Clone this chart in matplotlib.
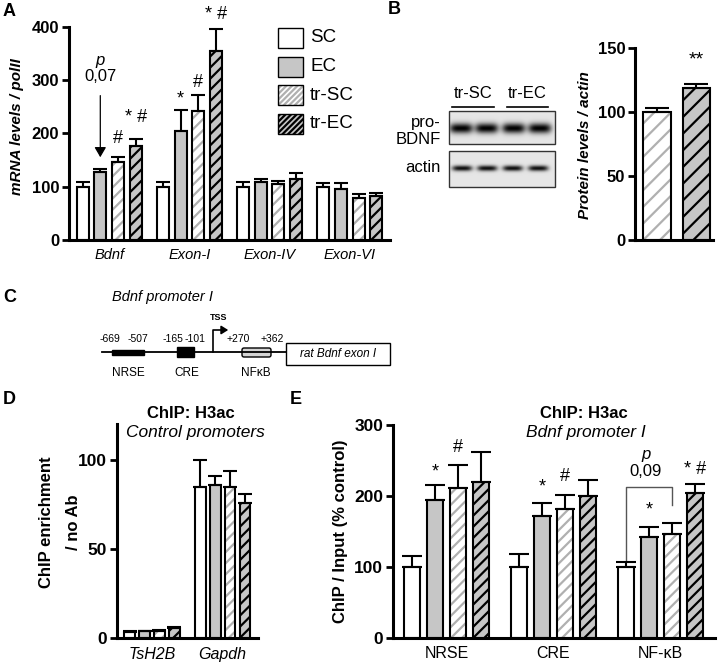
import numpy as np
import matplotlib
matplotlib.use("Agg")
import matplotlib.pyplot as plt
from matplotlib.patches import Rectangle, FancyBboxPatch

plt.rcParams['font.family'] = ['Liberation Sans', 'DejaVu Sans']
plt.rcParams['hatch.linewidth'] = 1.6

conditions = ['SC', 'EC', 'tr-SC', 'tr-EC']

# A: mRNA levels / polII
a_genes = ['Bdnf', 'Exon-I', 'Exon-IV', 'Exon-VI']
a_means = [[100, 100, 100, 100],
           [127, 205, 109, 96],
           [146, 242, 105, 79],
           [176, 355, 115, 83]]
a_errs = [[8, 8, 9, 6],
          [7, 39, 5, 10],
          [10, 29, 6, 7],
          [13, 40, 10, 5]]
a_yticks = [0, 100, 200, 300, 400]
# (gene, condition, text, y)
a_marks = [(0, 2, '#', 191), (0, 3, '* #', 229),
           (1, 1, '*', 265), (1, 2, '#', 295), (1, 3, '* #', 422)]

# B: protein levels / actin
b_groups = ['tr-SC', 'tr-EC']
b_means = [100, 119]
b_errs = [3.5, 3]
b_yticks = [0, 50, 100, 150]

# D: ChIP H3ac control promoters
d_genes = ['TsH2B', 'Gapdh']
d_means = [[3.8, 85], [3.9, 86], [4.3, 85], [5.8, 76]]
d_errs = [[0.3, 15], [0.3, 5], [0.4, 9], [0.6, 5]]
d_yticks = [0, 50, 100]

# E: ChIP H3ac Bdnf promoter I
e_sites = ['NRSE', 'CRE', 'NF-κB']
e_means = [[100, 100, 100], [194, 172, 142], [211, 181, 146], [220, 200, 204]]
e_errs = [[16, 19, 7], [22, 18, 15], [32, 20, 16], [42, 22, 13]]
e_yticks = [0, 100, 200, 300]
e_marks = [(0, 1, '*', 234), (0, 2, '#', 269), (1, 1, '*', 213), (1, 2, '#', 227),
           (2, 1, '*', 180), (2, 3, '* #', 237)]

GREY = '#c6c6c6'
HGREY = '#b0b0b0'


def bars(ax, x, h, err, cond, width, capsize, hatch='///'):
    if cond == 'SC':
        ax.bar(x, h, width, color='white', edgecolor='k', lw=1.5, zorder=2)
    elif cond == 'EC':
        ax.bar(x, h, width, color=GREY, edgecolor='k', lw=1.5, zorder=2)
    elif cond == 'tr-SC':
        ax.bar(x, h, width, color='white', edgecolor=HGREY, hatch=hatch, lw=0, zorder=2)
        ax.bar(x, h, width, color='none', edgecolor='k', lw=1.5, zorder=2)
    else:
        ax.bar(x, h, width, color=GREY, edgecolor='k', hatch=hatch, lw=1.5, zorder=2)
    err = np.atleast_1d(err)
    ax.errorbar(x, h, yerr=[np.zeros_like(err), err], fmt='none', ecolor='k',
                elinewidth=1.5, capsize=capsize, capthick=1.5, zorder=3)


def style(ax, yticks, ylim, xlim, labels, xstyle, xsize, ysize=12):
    ax.set_ylim(*ylim)
    ax.set_xlim(*xlim)
    ax.set_yticks(yticks)
    ax.spines[['top', 'right']].set_visible(False)
    ax.spines[['left', 'bottom']].set_linewidth(2.2)
    ax.tick_params(axis='y', length=5, width=2, labelsize=ysize, pad=2)
    ax.tick_params(axis='x', length=0, pad=6)
    ax.set_xticks(np.arange(len(labels)))
    ax.set_xticklabels(labels, fontstyle=xstyle, fontsize=xsize)
    plt.setp(ax.get_yticklabels(), fontweight='bold')
    ax.patch.set_alpha(0)


def px(l, t, r, b):
    return [l / 720, 1 - b / 666, (r - l) / 720, (b - t) / 666]


fig = plt.figure(figsize=(7.2, 6.66), dpi=100)
ov = fig.add_axes([0, 0, 1, 1])

# ---- A
axA = fig.add_axes(px(69, 26.7, 390, 240))
step, w = 0.22, 0.15
xa = np.arange(len(a_genes))
for k, c in enumerate(conditions):
    bars(axA, xa + (k - 1.5) * step, a_means[k], a_errs[k], c, w, 5)
style(axA, a_yticks, (0, 400), (-0.5, 3.5), a_genes, 'italic', 10.5)
for g, k, t, y in a_marks:
    axA.text(g + (k - 1.5) * step, y, t, ha='center', va='center', fontsize=13, clip_on=False)
xec = (1 - 1.5) * step
axA.annotate('', xy=(xec, 150), xytext=(xec, 276),
             arrowprops=dict(arrowstyle='-|>,head_width=0.35,head_length=0.6', color='k', lw=0.9))
axA.text(xec, 337, 'p', ha='center', va='center', fontsize=12, fontstyle='italic')
axA.text(xec, 307, '0,07', ha='center', va='center', fontsize=12)

# ---- B
axB = fig.add_axes(px(635, 48.3, 713, 240))
xb = np.arange(len(b_groups))
for k, c in enumerate(b_groups):
    bars(axB, xb[k], b_means[k], b_errs[k], c, 0.7, 8.5, hatch='//')
style(axB, b_yticks, (0, 150), (-0.557, 1.42), ['', ''], 'normal', 10)
axB.text(xb[1], 141, '**', ha='center', va='center', fontsize=14)

# ---- D
axD = fig.add_axes(px(116.7, 424.4, 258, 638.3))
xd = np.arange(len(d_genes))
for k, c in enumerate(conditions):
    bars(axD, xd + (k - 1.5) * 0.21, d_means[k], d_errs[k], c, 0.15, 5)
style(axD, d_yticks, (0, 120), (-0.5, 1.5), d_genes, 'italic', 11.5, ysize=12.5)

# ---- E
axE = fig.add_axes(px(393, 425, 715, 638))
xe = np.arange(len(e_sites))
for k, c in enumerate(conditions):
    bars(axE, xe + (k - 1.5) * 0.215, e_means[k], e_errs[k], c, 0.15, 7)
style(axE, e_yticks, (0, 300), (-0.5, 2.51), e_sites, 'normal', 11.5, ysize=12.5)
for g, k, t, y in e_marks:
    axE.text(g + (k - 1.5) * 0.215, y, t, ha='center', va='center', fontsize=13)
xl, xr = 2 - 1.5 * 0.215, 2 + 0.5 * 0.215
axE.plot([xl, xl, xr, xr], [110, 212, 212, 188], color='#555555', lw=1)
axE.text((xl + xr) / 2 - 0.03, 258, 'p', ha='center', va='center', fontsize=12, fontstyle='italic')
axE.text((xl + xr) / 2 - 0.03, 234, '0,09', ha='center', va='center', fontsize=12)

# ---- overlay: labels, legend, blot, promoter scheme
for lab, x, y in [('A', 3, 11), ('B', 388, 9), ('C', 3, 297), ('D', 3, 399), ('E', 290, 399)]:
    ov.text(x, y, lab, fontsize=13, fontweight='bold', ha='left', va='center')

ov.text(17, 127, 'mRNA levels / polII', rotation=90, ha='center', va='center',
        fontsize=11, fontweight='bold', fontstyle='italic')
ov.text(585, 145, 'Protein levels / actin', rotation=90, ha='center', va='center',
        fontsize=11, fontweight='bold', fontstyle='italic')
ov.text(47, 522, 'ChIP enrichment', rotation=90, ha='center', va='center',
        fontsize=12, fontweight='bold')
ov.text(74, 522, '/ no Ab', rotation=90, ha='center', va='center',
        fontsize=12, fontweight='bold')
ov.text(340, 531, 'ChIP / Input (% control)', rotation=90, ha='center', va='center',
        fontsize=12, fontweight='bold')
ov.text(191, 413, 'ChIP: H3ac', ha='center', va='center', fontsize=12, fontweight='bold')
ov.text(195, 433, 'Control promoters', ha='center', va='center', fontsize=12.5, fontstyle='italic')
ov.text(584, 413, 'ChIP: H3ac', ha='center', va='center', fontsize=12, fontweight='bold')
ov.text(586, 433, 'Bdnf promoter I', ha='center', va='center', fontsize=12.5, fontstyle='italic')

# legend of A
leg_styles = [dict(fc='white', ec='k', hatch=None), dict(fc=GREY, ec='k', hatch=None),
              dict(fc='white', ec=HGREY, hatch='//////'), dict(fc=GREY, ec='k', hatch='//////')]
for i, (c, st) in enumerate(zip(conditions, leg_styles)):
    top = 28 + i * 28.5
    ov.add_patch(Rectangle((278, top), 25, 20, facecolor=st['fc'], edgecolor=st['ec'],
                           hatch=st['hatch'], lw=0 if c == 'tr-SC' else 1))
    if c == 'tr-SC':
        ov.add_patch(Rectangle((278, top), 25, 20, facecolor='none', edgecolor='k', lw=1))
    ov.text(310, top + 10, c, fontsize=13.5, ha='left', va='center')

# western blot
def blot(x0, x1, y0, y1, cy, hh, hw, dark, centers):
    yy, xx = np.mgrid[y0:y1:0.5, x0:x1:0.5]
    img = np.full(xx.shape, 0.9)
    for cx in centers:
        img -= dark * np.exp(-((xx - cx) / hw) ** 4 - ((yy - cy) / hh) ** 2)
    ov.imshow(np.clip(img, 0, 1), cmap='gray', vmin=0, vmax=1, extent=(x0, x1, y1, y0),
              aspect='auto', interpolation='bilinear')
    ov.add_patch(Rectangle((x0, y0), x1 - x0, y1 - y0, fill=False, edgecolor='#333333', lw=1))

blot(449, 555, 111, 144, 128, 5, 11.5, 0.9, [461, 486.5, 513.5, 539.5])
blot(449, 555, 151, 187, 168, 2.8, 10, 0.85, [462, 487, 512.5, 538])
ov.text(473, 93, 'tr-SC', ha='center', va='center', fontsize=12)
ov.text(527, 93, 'tr-EC', ha='center', va='center', fontsize=12)
ov.plot([452, 494], [106.7, 106.7], color='k', lw=1.2)
ov.plot([507, 548], [106.7, 106.7], color='k', lw=1.2)
ov.text(441, 122, 'pro-', ha='right', va='center', fontsize=12)
ov.text(441, 139, 'BDNF', ha='right', va='center', fontsize=12)
ov.text(441, 168, 'actin', ha='right', va='center', fontsize=12)

# promoter scheme (C)
ov.text(162, 297, 'Bdnf promoter I', ha='center', va='center', fontsize=10.5, fontstyle='italic')
ov.plot([102, 286], [352, 352], color='k', lw=1.3)
ov.add_patch(Rectangle((112, 349.5), 32, 5, color='k'))
ov.add_patch(Rectangle((177, 347), 17, 10, color='k'))
ov.add_patch(FancyBboxPatch((242, 348), 29, 9, boxstyle='round,pad=0,rounding_size=2',
                            facecolor='#d4d4d4', edgecolor='k', lw=1))
ov.add_patch(Rectangle((286, 343), 104, 22, facecolor='white', edgecolor='k', lw=1))
ov.text(338, 354, 'rat Bdnf exon I', ha='center', va='center', fontsize=8.5, fontstyle='italic')
ov.plot([213, 213, 224], [352, 330, 330], color='k', lw=1.2)
ov.annotate('', xy=(231, 330), xytext=(222, 330),
            arrowprops=dict(arrowstyle='-|>,head_width=0.25,head_length=0.4', color='k', lw=1.2))
ov.text(219, 317, 'TSS', ha='center', va='center', fontsize=6.5, fontweight='bold')
for t, x in [('-669', 110), ('-507', 138), ('-165', 173), ('-101', 195), ('+270', 238), ('+362', 272)]:
    ov.text(x, 339, t, ha='center', va='center', fontsize=7.5)
for t, x in [('NRSE', 128), ('CRE', 187), ('NFκB', 256)]:
    ov.text(x, 373, t, ha='center', va='center', fontsize=8.5)

ov.set_xlim(0, 720)
ov.set_ylim(666, 0)
ov.axis('off')

fig.savefig('out.png', dpi=100)
